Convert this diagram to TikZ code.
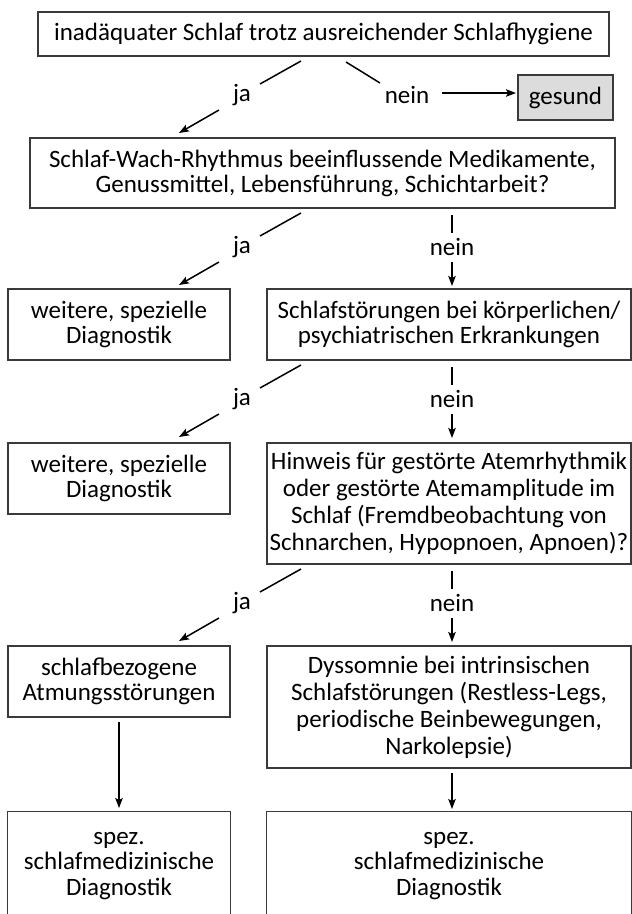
\documentclass[tikz,border=0pt]{standalone}
\usepackage{fontspec}
\setmainfont{Carlito}
\usetikzlibrary{arrows.meta}
\definecolor{boxgray}{HTML}{DCDCDC}
\definecolor{linecol}{HTML}{3A3A3A}
\begin{document}
\begin{tikzpicture}[x=1pt,y=-1pt,
  box/.style={draw=linecol,line width=1.3pt,align=center,inner sep=0pt,
    font=\fontsize{25}{25}\selectfont},
  tallbox/.style={box,font=\fontsize{25}{27}\selectfont},
  openbox/.style={align=center,inner sep=0pt,font=\fontsize{25}{25.5}\selectfont},
  lbl/.style={inner sep=0pt,font=\fontsize{25}{25}\selectfont},
  con/.style={line width=1.5pt,draw=black},
  arr/.style={con,-{Stealth[length=10pt,width=7.5pt,inset=2pt]}},
  boxline/.style={draw=linecol,line width=1.3pt}]
\useasboundingbox (0,0) rectangle (632,914);
% boxes
\node[box,minimum width=571pt,minimum height=44pt] (top) at (323.5,34)
  {inadäquater Schlaf trotz ausreichender Schlafhygiene};
\node[box,fill=boxgray,minimum width=95pt,minimum height=45pt] (gesund) at (565.5,97.5) {gesund};
\node[box,minimum width=585pt,minimum height=70pt] (q2) at (322.5,173)
  {Schlaf-Wach-Rhythmus beeinflussende Medikamente,\\Genussmittel, Lebensführung, Schichtarbeit?};
\node[box,minimum width=222pt,minimum height=71pt] (d1) at (119,324.5)
  {weitere, spezielle\\Diagnostik};
\node[box,minimum width=364pt,minimum height=71pt] (q3) at (449,324.5)
  {Schlafstörungen bei körperlichen/\\psychiatrischen Erkrankungen};
\node[box,minimum width=222pt,minimum height=71pt] (d2) at (119,478.5)
  {weitere, spezielle\\Diagnostik};
\node[tallbox,minimum width=364pt,minimum height=121pt] (q4) at (449,503.5)
  {Hinweis für gestörte Atemrhythmik\\oder gestörte Atemamplitude im\\Schlaf (Fremdbeobachtung von\\Schnarchen, Hypopnoen, Apnoen)?};
\node[box,minimum width=222pt,minimum height=71pt] (atm) at (119,681.5)
  {schlafbezogene\\Atmungsstörungen};
\node[tallbox,minimum width=364pt,minimum height=122pt] (dys) at (449,707)
  {Dyssomnie bei intrinsischen\\Schlafstörungen (Restless-Legs,\\periodische Beinbewegungen,\\Narkolepsie)};
\node[openbox,minimum width=222pt,minimum height=108pt] (sp1) at (119,866)
  {spez.\\schlafmedizinische\\Diagnostik};
\node[openbox,minimum width=364pt,minimum height=108pt] (sp2) at (449,866)
  {spez.\\schlafmedizinische\\Diagnostik};
\draw[boxline] (sp1.south west) -- (sp1.north west) -- (sp1.north east) -- (sp1.south east);
\draw[boxline] (sp2.south west) -- (sp2.north west) -- (sp2.north east) -- (sp2.south east);
% labels
\node[lbl] (ja1) at (242,95) {ja};
\node[lbl] (nein1) at (407,95) {nein};
\node[lbl] (ja2) at (242,247) {ja};
\node[lbl] (nein2) at (452,247) {nein};
\node[lbl] (ja3) at (242,399) {ja};
\node[lbl] (nein3) at (452,399) {nein};
\node[lbl] (ja4) at (242,603) {ja};
\node[lbl] (nein4) at (452,603) {nein};
% connector end points
\coordinate (a1s) at (301,61);  \coordinate (a1m) at (260,84);
\coordinate (a1n) at (219,110); \coordinate (a1e) at (179,133);
\coordinate (b1s) at (346,62);  \coordinate (b1m) at (380,83);
\coordinate (b1n) at (442,93);  \coordinate (b1e) at (516,93);
\foreach \r/\y in {2/213,3/365,4/569}{
  \coordinate (a\r s) at (301,\y);
  \coordinate (a\r m) at (260,\y+23);
  \coordinate (a\r n) at (219,\y+49);
  \coordinate (a\r e) at (179,\y+72);
  \coordinate (b\r s) at (452,\y+2);
  \coordinate (b\r m) at (452,\y+20);
  \coordinate (b\r n) at (452,\y+49);
  \coordinate (b\r e) at (452,\y+73);
}
\coordinate (c1s) at (119,722); \coordinate (c1e) at (119,808);
\coordinate (c2s) at (452,773); \coordinate (c2e) at (452,809);
% connectors
\draw[con] (a1s) -- (a1m);  \draw[arr] (a1n) -- (a1e);
\draw[con] (b1s) -- (b1m);  \draw[arr] (b1n) -- (b1e);
\foreach \r in {2,3,4}{
  \draw[con] (a\r s) -- (a\r m);  \draw[arr] (a\r n) -- (a\r e);
  \draw[con] (b\r s) -- (b\r m);  \draw[arr] (b\r n) -- (b\r e);
}
\draw[arr] (c1s) -- (c1e);
\draw[arr] (c2s) -- (c2e);
\end{tikzpicture}
\end{document}
